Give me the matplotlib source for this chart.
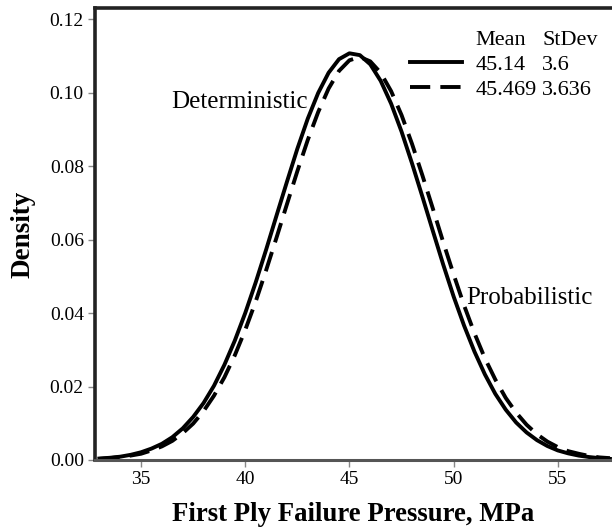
import matplotlib
matplotlib.use("Agg")
import matplotlib.pyplot as plt
from matplotlib.lines import Line2D

plt.rcParams["font.family"] = ["Liberation Serif", "DejaVu Serif"]

# pressure grid (MPa) and densities
pressure = [33.0, 33.5, 34.0, 34.5, 35.0, 35.5, 36.0, 36.5, 37.0, 37.5,
            38.0, 38.5, 39.0, 39.5, 40.0, 40.5, 41.0, 41.5, 42.0, 42.5,
            43.0, 43.5, 44.0, 44.5, 45.0, 45.5, 46.0, 46.5, 47.0, 47.5,
            48.0, 48.5, 49.0, 49.5, 50.0, 50.5, 51.0, 51.5, 52.0, 52.5,
            53.0, 53.5, 54.0, 54.5, 55.0, 55.5, 56.0, 56.5, 57.0, 57.5]

density_det = [0.0004, 0.0006, 0.0009, 0.0014, 0.0021, 0.0031, 0.0044, 0.0062, 0.0086, 0.0117,
               0.0155, 0.0202, 0.0259, 0.0325, 0.0400, 0.0483, 0.0572, 0.0665, 0.0757, 0.0847,
               0.0929, 0.0999, 0.1054, 0.1091, 0.1107, 0.1102, 0.1077, 0.1032, 0.0970, 0.0894,
               0.0808, 0.0717, 0.0624, 0.0532, 0.0445, 0.0366, 0.0295, 0.0233, 0.0180, 0.0137,
               0.0102, 0.0075, 0.0054, 0.0038, 0.0026, 0.0018, 0.0012, 0.0008, 0.0005, 0.0003]

density_prob = [0.0003, 0.0005, 0.0008, 0.0012, 0.0017, 0.0026, 0.0037, 0.0052, 0.0073, 0.0099,
                0.0133, 0.0175, 0.0225, 0.0285, 0.0354, 0.0431, 0.0516, 0.0605, 0.0696, 0.0786,
                0.0871, 0.0947, 0.1011, 0.1059, 0.1088, 0.1097, 0.1085, 0.1054, 0.1004, 0.0939,
                0.0861, 0.0775, 0.0685, 0.0593, 0.0505, 0.0421, 0.0345, 0.0277, 0.0219, 0.0169,
                0.0129, 0.0096, 0.0070, 0.0050, 0.0035, 0.0024, 0.0017, 0.0011, 0.0007, 0.0005]

means = ["45.14", "45.469"]
stdevs = ["3.6", "3.636"]

x_ticks = [35, 40, 45, 50, 55]
y_ticks = [0.00, 0.02, 0.04, 0.06, 0.08, 0.10, 0.12]

fig = plt.figure(figsize=(6.12, 5.30), dpi=100)
ax = fig.add_axes([0.1552, 0.1321, 0.8448, 0.8519])

ax.plot(pressure, density_prob, color="black", lw=2.8, ls=(0, (5.2, 2.6)))
ax.plot(pressure, density_det, color="black", lw=2.8)

ax.set_xlim(32.79, 57.6)
ax.set_ylim(0, 0.1229)
ax.set_xticks(x_ticks)
ax.set_yticks(y_ticks)
ax.set_yticklabels([f"{v:.2f}" for v in y_ticks])
ax.tick_params(direction="out", length=5, width=1, color="#888888",
               labelsize=14, pad=3)

ax.spines["right"].set_visible(False)
for side in ["left", "top"]:
    ax.spines[side].set_linewidth(2.6)
    ax.spines[side].set_color("#222222")
ax.spines["bottom"].set_linewidth(2.2)
ax.spines["bottom"].set_color("#555555")

ax.set_xlabel("First Ply Failure Pressure, MPa", fontsize=19.3, fontweight="bold", labelpad=10)
ax.set_ylabel("Density", fontsize=19.5, fontweight="bold", labelpad=10)

ax.text(43.0, 0.0975, "Deterministic", fontsize=18, ha="right", va="center")
ax.text(50.6, 0.0440, "Probabilistic", fontsize=18, ha="left", va="center")

handles = [Line2D([], [], color="none"),
           Line2D([], [], color="black", lw=2.8),
           Line2D([], [], color="black", lw=2.8, ls=(0, (5.2, 2.6)))]
labels = ["Mean"] + means
leg = ax.legend(handles, labels, loc="upper left", bbox_to_anchor=(0.609, 0.953),
                frameon=False, fontsize=16, handlelength=2.35, handletextpad=0.6,
                labelspacing=0.2, borderpad=0, borderaxespad=0)
texts = leg.get_texts()
for i, s in enumerate(["StDev"] + stdevs):
    ax.annotate(s, xy=(1, 0), xycoords=(texts[2], texts[i]),
                xytext=(4, 0), textcoords="offset points",
                fontsize=16, ha="left", va="bottom", zorder=6)

fig.savefig("out.png", dpi=100)
